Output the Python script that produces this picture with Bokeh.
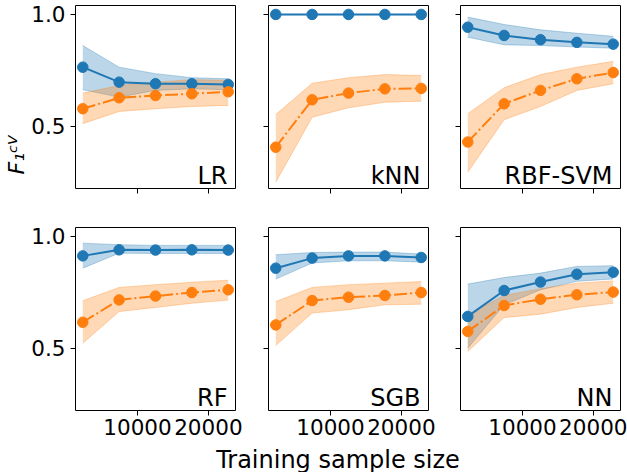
from bokeh.plotting import figure
from bokeh.layouts import gridplot, column
from bokeh.models import Range1d, FixedTicker, Title
from bokeh.core.properties import value
from bokeh.embed import file_html
from bokeh.resources import INLINE

# ---------------- data ----------------
train_sizes = [2280, 7410, 12540, 17670, 22800]
models = ["LR", "kNN", "RBF-SVM", "RF", "SGB", "NN"]
x_ticks = [10000, 20000]
y_ticks = [0.5, 1.0]
x_tick_labels = ["10000", "20000"]
y_tick_labels = ["0.5", "1.0"]
x_label = "Training sample size"
y_label = "F\u2081\u1d9c\u2c7d"   # F_1^CV

train_mean = {
    "LR":      [0.764, 0.697, 0.690, 0.690, 0.687],
    "kNN":     [1.000, 1.000, 1.000, 1.000, 1.000],
    "RBF-SVM": [0.943, 0.906, 0.887, 0.875, 0.867],
    "RF":      [0.913, 0.940, 0.939, 0.940, 0.939],
    "SGB":     [0.858, 0.903, 0.913, 0.913, 0.906],
    "NN":      [0.642, 0.758, 0.796, 0.831, 0.840],
}
train_hi = {
    "LR":      [0.861, 0.764, 0.735, 0.717, 0.712],
    "kNN":     [1.000, 1.000, 1.000, 1.000, 1.000],
    "RBF-SVM": [0.988, 0.955, 0.931, 0.916, 0.902],
    "RF":      [0.970, 0.963, 0.960, 0.960, 0.960],
    "SGB":     [0.918, 0.928, 0.930, 0.930, 0.921],
    "NN":      [0.787, 0.816, 0.836, 0.866, 0.869],
}
train_lo = {
    "LR":      [0.663, 0.630, 0.660, 0.667, 0.663],
    "kNN":     [0.999, 0.999, 0.999, 0.999, 0.999],
    "RBF-SVM": [0.898, 0.864, 0.861, 0.854, 0.849],
    "RF":      [0.858, 0.925, 0.924, 0.924, 0.924],
    "SGB":     [0.809, 0.881, 0.891, 0.891, 0.885],
    "NN":      [0.500, 0.694, 0.761, 0.799, 0.810],
}
test_mean = {
    "LR":      [0.578, 0.627, 0.637, 0.645, 0.654],
    "kNN":     [0.406, 0.618, 0.648, 0.667, 0.669],
    "RBF-SVM": [0.429, 0.600, 0.660, 0.712, 0.740],
    "RF":      [0.616, 0.716, 0.733, 0.749, 0.761],
    "SGB":     [0.604, 0.713, 0.728, 0.736, 0.749],
    "NN":      [0.575, 0.691, 0.719, 0.739, 0.751],
}
test_hi = {
    "LR":      [0.648, 0.682, 0.697, 0.708, 0.705],
    "kNN":     [0.552, 0.692, 0.717, 0.731, 0.727],
    "RBF-SVM": [0.556, 0.672, 0.731, 0.764, 0.790],
    "RF":      [0.712, 0.772, 0.784, 0.795, 0.804],
    "SGB":     [0.709, 0.772, 0.784, 0.791, 0.798],
    "NN":      [0.649, 0.736, 0.766, 0.791, 0.801],
}
test_lo = {
    "LR":      [0.511, 0.566, 0.578, 0.588, 0.593],
    "kNN":     [0.249, 0.540, 0.582, 0.607, 0.612],
    "RBF-SVM": [0.294, 0.529, 0.588, 0.660, 0.690],
    "RF":      [0.522, 0.664, 0.682, 0.701, 0.715],
    "SGB":     [0.512, 0.657, 0.672, 0.694, 0.697],
    "NN":      [0.485, 0.637, 0.652, 0.682, 0.701],
}

# ---------------- style ----------------
BLUE = "#1f77b4"
ORANGE = "#ff7f0e"
FONT = "DejaVu Sans"
TICK_FS = "21.5px"
Y_LO, Y_HI = 0.221, 1.040
span = max(train_sizes) - min(train_sizes)
X_LO = min(train_sizes) - 0.05 * span
X_HI = max(train_sizes) + 0.05 * span

col_w = [251, 193, 183]
col_bl = [75, 17, 16]
col_br = [16, 16, 7]
row_h = [208, 236]
row_bt = [5, 19]
row_bb = [20, 34]

figs = []
for i, name in enumerate(models):
    r, c = divmod(i, 3)
    p = figure(width=col_w[c], height=row_h[r],
               x_range=Range1d(X_LO, X_HI), y_range=Range1d(Y_LO, Y_HI),
               output_backend="svg", toolbar_location=None, tools="",
               min_border_left=col_bl[c], min_border_right=col_br[c],
               min_border_top=row_bt[r], min_border_bottom=row_bb[r])
    p.grid.visible = False
    p.outline_line_color = "black"
    p.outline_line_width = 1
    p.background_fill_color = "white"
    p.border_fill_color = "white"
    for ax in (p.xaxis[0], p.yaxis[0]):
        ax.axis_line_color = None
        ax.major_tick_in = 0
        ax.major_tick_out = 5
        ax.major_tick_line_color = "black"
        ax.minor_tick_line_color = None
        ax.major_label_text_font = FONT
        ax.major_label_text_color = "black"
        ax.major_label_text_font_size = TICK_FS
    p.xaxis.ticker = FixedTicker(ticks=x_ticks)
    p.yaxis.ticker = FixedTicker(ticks=y_ticks)
    p.xaxis.major_label_standoff = 3
    p.yaxis.major_label_standoff = 5
    if r == 1:
        p.xaxis.major_label_overrides = dict(zip(x_ticks, x_tick_labels))
    else:
        p.xaxis.major_label_overrides = {t: "" for t in x_ticks}
        p.xaxis.major_label_text_font_size = "0px"
        p.xaxis.major_label_standoff = 0
    if c == 0:
        p.yaxis.major_label_overrides = dict(zip(y_ticks, y_tick_labels))
    else:
        p.yaxis.major_label_overrides = {t: "" for t in y_ticks}
        p.yaxis.major_label_text_font_size = "0px"
        p.yaxis.major_label_standoff = 0

    # bands
    p.varea(x=train_sizes, y1=train_lo[name], y2=train_hi[name],
            fill_color=BLUE, fill_alpha=0.3)
    p.line(train_sizes, train_lo[name], line_color=BLUE, line_alpha=0.3, line_width=1)
    p.line(train_sizes, train_hi[name], line_color=BLUE, line_alpha=0.3, line_width=1)
    p.varea(x=train_sizes, y1=test_lo[name], y2=test_hi[name],
            fill_color=ORANGE, fill_alpha=0.3)
    p.line(train_sizes, test_lo[name], line_color=ORANGE, line_alpha=0.3, line_width=1)
    p.line(train_sizes, test_hi[name], line_color=ORANGE, line_alpha=0.3, line_width=1)
    # means
    p.line(train_sizes, train_mean[name], line_color=BLUE, line_width=2)
    p.scatter(train_sizes, train_mean[name], size=10.5, fill_color=BLUE, line_color=BLUE)
    p.line(train_sizes, test_mean[name], line_color=ORANGE, line_width=2,
           line_dash="13 3 2 3")
    p.scatter(train_sizes, test_mean[name], size=10.5, fill_color=ORANGE, line_color=ORANGE)

    # panel name (inside frame, lower right)
    p.text(x=[X_HI - 0.05 * (X_HI - X_LO)], y=[Y_LO + 0.066 * (Y_HI - Y_LO)],
           text=[name], text_align="right", text_baseline="alphabetic",
           text_font=value(FONT), text_font_size="24px", text_color="black")
    figs.append(p)

# y label on the first panel, rotated in the left border
figs[0].add_layout(Title(text=y_label, align="left", offset=14, standoff=0,
                         vertical_align="bottom", text_font=FONT,
                         text_font_style="italic", text_font_size="22px",
                         text_color="black"), "left")

grid = gridplot([figs[0:3], figs[3:6]], toolbar_location=None)

total_w = sum(col_w)
XL_H = 28
xl = figure(width=total_w, height=XL_H, x_range=Range1d(0, total_w),
            y_range=Range1d(0, XL_H), output_backend="svg", toolbar_location=None,
            tools="", min_border=0, x_axis_type=None, y_axis_type=None)
xl.outline_line_color = None
xl.grid.visible = False
xl.text(x=[337.5], y=[13], text=[x_label], text_align="center",
        text_baseline="alphabetic", text_font=value(FONT),
        text_font_size="24px", text_color="black")

layout = column(grid, xl)
open("out.html", "w").write(file_html(layout, INLINE))
